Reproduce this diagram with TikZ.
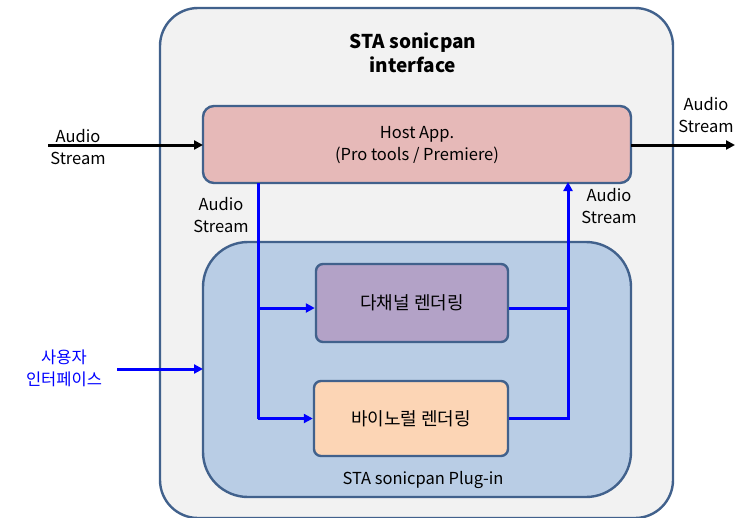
\documentclass[tikz,border=0pt]{standalone}
\usepackage{fontspec}
\setmainfont{Noto Sans CJK KR}
\usetikzlibrary{arrows.meta}
\definecolor{bord}{HTML}{41618C}
\definecolor{outerfill}{HTML}{F2F2F2}
\definecolor{hostfill}{HTML}{E6B9B8}
\definecolor{plugfill}{HTML}{B9CDE5}
\definecolor{multifill}{HTML}{B3A2C7}
\definecolor{binfill}{HTML}{FCD5B5}
\definecolor{flow}{HTML}{0000FF}
\tikzset{
  box/.style={draw=bord, line width=2.4pt},
  lbl/.style={font=\fontsize{16.5}{22}\selectfont, align=center, inner sep=0pt},
  bflow/.style={draw=flow, line width=3pt},
  barrow/.style={bflow, -{Triangle[length=9pt,width=9pt]}},
  karrow/.style={draw=black, line width=3pt, -{Triangle[length=9pt,width=9pt]}},
}
\begin{document}
\begin{tikzpicture}[x=1pt,y=-1pt]
\useasboundingbox (0,0) rectangle (735,517);
\begin{scope}
\clip (0,0) rectangle (735,517);
\draw[box, fill=outerfill, rounded corners=38pt] (160,8) rectangle (673,518);
\end{scope}
\node[lbl, font=\fontsize{19}{24}\selectfont\bfseries] (title) at (413,53) {STA sonicpan\\interface};
\draw[box, fill=hostfill, rounded corners=11pt] (203,106) rectangle (631,183);
\node[lbl] (host) at (417,145) {Host App.\\(Pro tools / Premiere)};
\coordinate (hostL) at (203,145);
\coordinate (hostR) at (631,145);
\draw[box, fill=plugfill, rounded corners=45pt] (203,242) rectangle (631,497);
\coordinate (plugL) at (203,369);
\node[lbl] (plug) at (423,480) {STA sonicpan Plug-in};
\node[box, fill=multifill, rounded corners=7pt, minimum width=192pt, minimum height=78pt, font=\fontsize{18}{22}\selectfont] (multi) at (412,303) {다채널 렌더링};
\node[box, fill=binfill, rounded corners=7pt, minimum width=194pt, minimum height=75pt, font=\fontsize{18}{22}\selectfont] (bin) at (411,418.5) {바이노럴 렌더링};
% blue flows
\coordinate (dl) at (258,183);
\coordinate (dlb) at (258,418.5);
\coordinate (dlm) at (258,308);
\coordinate (ur) at (568,183);
\coordinate (urb) at (568,418.5);
\coordinate (urm) at (568,308);
\draw[bflow] (dl) -- (dlb);
\draw[barrow] (dlm) -- (multi.west |- dlm);
\draw[barrow] (dlb) -- (bin.west);
\draw[bflow] (multi.east |- urm) -- (urm);
\draw[barrow] (bin.east) -- (urb) -- ([yshift=1pt]ur);
% black arrows
\coordinate (inL) at (48,145);
\coordinate (outR) at (735,145);
\draw[karrow] (inL) -- (hostL);
\draw[karrow] (hostR) -- (outR);
\node[lbl] (a1) at (78,147) {Audio\\Stream};
\node[lbl] (a2) at (706,115) {Audio\\Stream};
\node[lbl] (a3) at (221,215) {Audio\\Stream};
\node[lbl] (a4) at (609,206) {Audio\\Stream};
\node[lbl, text=flow] (ui) at (64,368) {사용자\\인터페이스};
\coordinate (uiR) at (117,369);
\draw[barrow] (uiR) -- (plugL);
\end{tikzpicture}
\end{document}
